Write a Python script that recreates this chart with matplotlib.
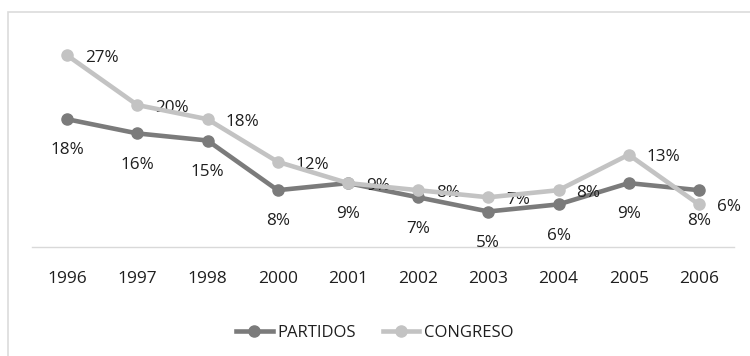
import matplotlib
matplotlib.use("Agg")
import matplotlib.pyplot as plt
from matplotlib.patches import Rectangle

# datos
years = ["1996", "1997", "1998", "2000", "2001", "2002", "2003", "2004", "2005", "2006"]
partidos = [18, 16, 15, 8, 9, 7, 5, 6, 9, 8]
congreso = [27, 20, 18, 12, 9, 8, 7, 8, 13, 6]

plt.rcParams['font.family'] = ['Open Sans', 'DejaVu Sans']
txt = '#1f1f1f'
dark = '#7b7b7b'
light = '#c3c3c3'

fig = plt.figure(figsize=(7.5, 3.56), dpi=100)
fig.patch.set_facecolor('white')

# marco del grafico (se sale por derecha y abajo)
fig.patches.append(Rectangle((8 / 750, -0.2), 1.2, 0.2 + (356 - 12) / 356,
                             transform=fig.transFigure, fill=False,
                             edgecolor='#dcdcdc', lw=1.2))

ax = fig.add_axes([32 / 750, (356 - 247) / 356, 702 / 750, 213 / 356])
x = list(range(len(years)))

ax.plot(x, partidos, color=dark, lw=3.3, marker='o', ms=8, label='PARTIDOS', zorder=3)
ax.plot(x, congreso, color=light, lw=3.3, marker='o', ms=8, label='CONGRESO', zorder=4)

for i, v in enumerate(partidos):
    ax.annotate(f"{v}%", (i, v), xytext=(0, -22.5), textcoords='offset points',
                ha='center', va='center', fontsize=12.3, color=txt)
for i, v in enumerate(congreso):
    ax.annotate(f"{v}%", (i, v), xytext=(13, -2), textcoords='offset points',
                ha='left', va='center', fontsize=12.3, color=txt)

ax.set_xlim(-0.5, len(years) - 0.5)
ax.set_ylim(0, 30)
ax.set_xticks(x)
ax.set_xticklabels(years, fontsize=12.5, color=txt)
ax.tick_params(axis='x', length=0, pad=17)
ax.set_yticks([])
for s in ['top', 'right', 'left']:
    ax.spines[s].set_visible(False)
ax.spines['bottom'].set_color('#d9d9d9')
ax.spines['bottom'].set_linewidth(1)
ax.patch.set_alpha(0)

h, l = ax.get_legend_handles_labels()
fig.legend(h, l, loc='center', bbox_to_anchor=(0.5, (356 - 333) / 356), ncol=2,
           frameon=False, fontsize=12, labelcolor=txt, handlelength=2.2,
           columnspacing=1.6, handletextpad=0.3)

fig.savefig('out.png', dpi=100)
